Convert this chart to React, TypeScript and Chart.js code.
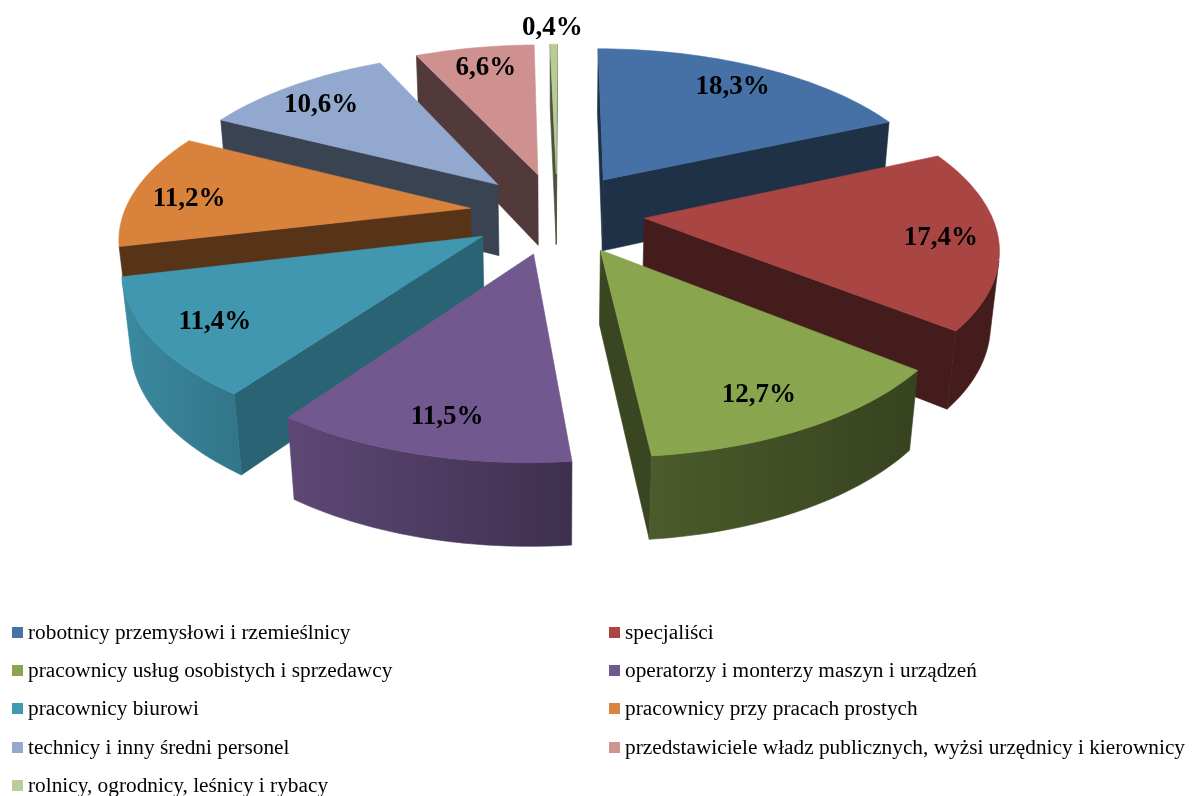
import React, { useEffect, useRef } from "react";
import { Chart, registerables } from "chart.js";

Chart.register(...registerables);

const categories = [
  "robotnicy przemysłowi i rzemieślnicy",
  "specjaliści",
  "pracownicy usług osobistych i sprzedawcy",
  "operatorzy i monterzy maszyn i urządzeń",
  "pracownicy biurowi",
  "pracownicy przy pracach prostych",
  "technicy i inny średni personel",
  "przedstawiciele władz publicznych, wyżsi urzędnicy i kierownicy",
  "rolnicy, ogrodnicy, leśnicy i rybacy",
];
const values = [18.3, 17.4, 12.7, 11.5, 11.4, 11.2, 10.6, 6.6, 0.4];
const colors = ["#4571A6", "#A94543", "#89A54E", "#71588F", "#4097AF", "#D9823B", "#92A8CE", "#CF9190", "#B8CC94"];
const legendColors = ["#4572A7", "#AA4643", "#89A54E", "#71588F", "#4198AF", "#DB843D", "#93A9CF", "#D19392", "#B9CD96"];
const radialShade = [0.43, 0.4, 0.42, 0.5, 0.66, 0.4, 0.4, 0.4, 0.4];
const rimShadeStart = [0.43, 0.4, 0.4, 0.55, 0.78, 0.4, 0.4, 0.4, 0.4];
const rimShadeEnd = [0.43, 0.4, 0.55, 0.82, 0.92, 0.4, 0.4, 0.4, 0.4];
const labelRadius = [0.83, 0.84, 0.83, 0.83, 0.83, 0.83, 0.83, 0.84, 1.16];
const labelNudgeX = [-5, -3, -11, 7, 5, 0, -2, 3, -1];
const labelNudgeY = [3, 2, 0, 0, 1, 6, 5, 3, 3];

// perspective camera for the tilted pie
const CX = 557, CY = 213, SX = 350, SY = 163, K = 0.159, DEPTH_DEN = 0.02, DEPTH_Y = 74;
const EXPLODE = 0.25, RIM = 0.99;

const project = (x: number, y: number, z = 0): [number, number] => {
  const den = 1 - K * y + DEPTH_DEN * z;
  return [CX + (SX * x) / den, CY + (SY * y + DEPTH_Y * z) / den];
};

const shade = (hex: string, f: number) => {
  const n = parseInt(hex.slice(1), 16);
  return `rgb(${Math.round(((n >> 16) & 255) * f)},${Math.round(((n >> 8) & 255) * f)},${Math.round((n & 255) * f)})`;
};

const fillPoly = (ctx: CanvasRenderingContext2D, pts: [number, number][], color: any) => {
  ctx.beginPath();
  pts.forEach((p, i) => (i ? ctx.lineTo(p[0], p[1]) : ctx.moveTo(p[0], p[1])));
  ctx.closePath();
  ctx.fillStyle = color;
  ctx.strokeStyle = color;
  ctx.lineWidth = 0.6;
  ctx.fill();
  ctx.stroke();
};

const area = (p: [number, number][]) => {
  let s = 0;
  p.forEach((a, i) => {
    const b = p[(i + 1) % p.length];
    s += a[0] * b[1] - b[0] * a[1];
  });
  return s;
};

const pie3d = {
  id: "pie3d",
  beforeDatasetsDraw(chart: any) {
    const ctx: CanvasRenderingContext2D = chart.ctx;
    const arcs = chart.getDatasetMeta(0).data as any[];
    const slices = arcs.map((arc, i) => {
      const { startAngle, endAngle } = arc.getProps(["startAngle", "endAngle"], true);
      const mid = (startAngle + endAngle) / 2;
      const ox = EXPLODE * Math.cos(mid);
      const oy = EXPLODE * Math.sin(mid);
      return { i, startAngle, endAngle, mid, ox, oy };
    });
    const order = [...slices].sort((a, b) => project(a.ox, a.oy)[1] - project(b.ox, b.oy)[1]);

    ctx.save();
    for (const s of order) {
      const base = colors[s.i];
      const steps = Math.max(2, Math.ceil(((s.endAngle - s.startAngle) * 180) / Math.PI / 1.5));
      const rim: [number, number][] = [];
      for (let k = 0; k <= steps; k++) {
        const t = s.startAngle + ((s.endAngle - s.startAngle) * k) / steps;
        rim.push([s.ox + RIM * Math.cos(t), s.oy + RIM * Math.sin(t)]);
      }
      const tip: [number, number] = [s.ox, s.oy];
      const quad = (a: [number, number], b: [number, number]) => [
        project(a[0], a[1]),
        project(b[0], b[1]),
        project(b[0], b[1], 1),
        project(a[0], a[1], 1),
      ];
      const radial = (a: [number, number], b: [number, number]) => {
        const q = quad(a, b);
        if (area(q) < 0) fillPoly(ctx, q, shade(base, radialShade[s.i]));
      };
      radial(tip, rim[0]);
      radial(rim[rim.length - 1], tip);

      // outer wall: the strips that face the camera, as one shaded surface
      const visible: number[] = [];
      for (let k = 0; k < steps; k++) if (area(quad(rim[k], rim[k + 1])) < 0) visible.push(k);
      if (visible.length) {
        const first = visible[0];
        const last = visible[visible.length - 1] + 1;
        const top: [number, number][] = [];
        const bottom: [number, number][] = [];
        for (let k = first; k <= last; k++) {
          top.push(project(rim[k][0], rim[k][1]));
          bottom.unshift(project(rim[k][0], rim[k][1], 1));
        }
        const a = top[0];
        const b = top[top.length - 1];
        const g = ctx.createLinearGradient(a[0], 0, b[0], 0);
        const range = rimShadeEnd[s.i] - rimShadeStart[s.i];
        g.addColorStop(0, shade(base, rimShadeStart[s.i] + (range * first) / steps));
        g.addColorStop(1, shade(base, rimShadeStart[s.i] + (range * last) / steps));
        fillPoly(ctx, [...top, ...bottom], g);
      }
      fillPoly(ctx, [tip, ...rim].map((p) => project(p[0], p[1])), base);
    }

    ctx.fillStyle = "#000";
    ctx.font = 'bold 27px "Liberation Serif"';
    ctx.textAlign = "center";
    ctx.textBaseline = "middle";
    for (const s of slices) {
      const r = labelRadius[s.i];
      const p = project(s.ox + r * Math.cos(s.mid), s.oy + r * Math.sin(s.mid));
      ctx.fillText(values[s.i].toFixed(1).replace(".", ",") + "%", p[0] + labelNudgeX[s.i], p[1] + labelNudgeY[s.i]);
    }
    ctx.restore();
    return false;
  },
};

export default function App() {
  const ref = useRef<HTMLCanvasElement>(null);
  useEffect(() => {
    const chart = new Chart(ref.current!, {
      type: "pie",
      data: {
        labels: categories,
        datasets: [{ data: values, backgroundColor: colors, borderWidth: 0 }],
      },
      options: {
        animation: false,
        responsive: false,
        rotation: 0.2,
        plugins: { legend: { display: false }, tooltip: { enabled: false } },
      },
      plugins: [pie3d],
    } as any);
    return () => chart.destroy();
  }, []);
  return (
    <div style={{ position: "fixed", left: 0, top: 0, width: 1198, height: 796, background: "#fff", overflow: "hidden" }}>
      <canvas ref={ref} width={1198} height={796} style={{ position: "absolute", left: 0, top: 0 }} />
      <div
        style={{
          position: "absolute",
          left: 12,
          top: 613,
          display: "grid",
          gridTemplateColumns: "597px 580px",
          gridAutoRows: "38.3px",
          font: '21.3px "Liberation Serif"',
          color: "#000",
          whiteSpace: "nowrap",
        }}
      >
        {categories.map((c, i) => (
          <div key={c} style={{ display: "flex", alignItems: "center" }}>
            <span style={{ width: 11, height: 11, background: legendColors[i], marginRight: 5, flex: "none" }} />
            <span>{c}</span>
          </div>
        ))}
      </div>
    </div>
  );
}
